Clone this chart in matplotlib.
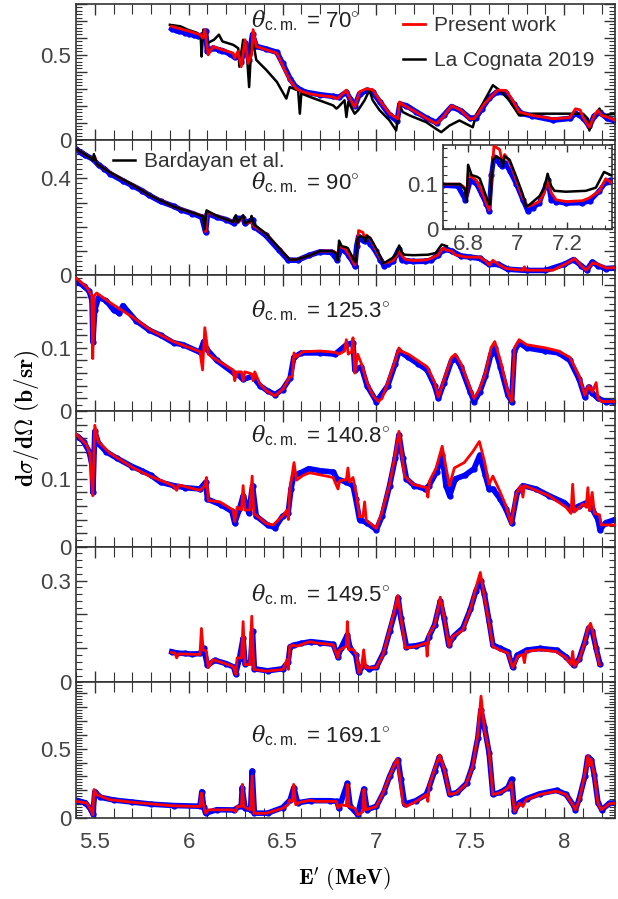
import numpy as np
import matplotlib
matplotlib.use('Agg')
import matplotlib.pyplot as plt
from matplotlib.ticker import MultipleLocator, FuncFormatter

plt.rcParams['font.family'] = ['Liberation Sans', 'DejaVu Sans']
plt.rcParams['mathtext.fontset'] = 'custom'
plt.rcParams['mathtext.rm'] = 'Liberation Sans'
plt.rcParams['mathtext.it'] = 'DejaVu Serif:italic'
plt.rcParams['mathtext.bf'] = 'DejaVu Serif:bold'

# ---- data: (E' [MeV], dsigma/dOmega [b/sr]) ----
# theta = 70
fit70 = [(5.909,0.668),(5.95,0.655),(6.00,0.64),(6.06,0.619),(6.075,0.60),(6.086,0.649),(6.104,0.50),
         (6.13,0.549),(6.18,0.53),(6.237,0.51),(6.245,0.48),(6.262,0.52),(6.28,0.43),(6.30,0.589),
         (6.317,0.45),(6.335,0.50),(6.343,0.649),(6.36,0.549),(6.414,0.53),(6.47,0.51),(6.503,0.43),
         (6.538,0.351),(6.574,0.30),(6.60,0.285),(6.645,0.27),(6.70,0.26),(6.77,0.252),(6.79,0.24),
         (6.80,0.25),(6.84,0.292),(6.855,0.25),(6.884,0.192),(6.91,0.282),(6.946,0.30),(6.98,0.295),
         (7.017,0.232),(7.07,0.153),(7.114,0.123),(7.123,0.222),(7.15,0.20),(7.21,0.163),(7.27,0.123),
         (7.32,0.093),(7.36,0.14),(7.40,0.20),(7.45,0.173),(7.496,0.123),(7.52,0.123),(7.54,0.153),
         (7.575,0.212),(7.61,0.252),(7.646,0.292),(7.69,0.29),(7.725,0.232),(7.76,0.163),(7.83,0.143),
         (7.94,0.123),(8.03,0.13),(8.06,0.182),(8.085,0.175),(8.10,0.133),(8.134,0.073),(8.16,0.143),
         (8.18,0.173),(8.20,0.143),(8.23,0.133),(8.275,0.113)]
lacog70 = [(5.90,0.677),(5.957,0.668),(5.993,0.649),(6.046,0.629),(6.064,0.609),(6.069,0.49),(6.078,0.649),
           (6.10,0.569),(6.135,0.589),(6.161,0.619),(6.18,0.579),(6.237,0.559),(6.264,0.539),(6.27,0.43),
           (6.29,0.589),(6.307,0.549),(6.322,0.31),(6.334,0.569),(6.343,0.579),(6.36,0.47),(6.414,0.41),
           (6.47,0.34),(6.52,0.242),(6.538,0.31),(6.583,0.29),(6.592,0.153),(6.60,0.272),(6.645,0.252),
           (6.769,0.202),(6.787,0.183),(6.795,0.19),(6.83,0.232),(6.84,0.133),(6.85,0.222),(6.884,0.153),
           (6.902,0.173),(6.937,0.232),(6.963,0.292),(6.98,0.232),(7.017,0.173),(7.07,0.113),(7.105,0.054),
           (7.123,0.202),(7.14,0.163),(7.176,0.143),(7.265,0.103),(7.318,0.063),(7.345,0.044),(7.389,0.083),
           (7.442,0.113),(7.513,0.073),(7.53,0.143),(7.566,0.212),(7.62,0.321),(7.655,0.292),(7.708,0.232),
           (7.76,0.143),(7.832,0.153),(8.10,0.153),(8.126,0.123),(8.134,0.054),(8.153,0.123),(8.188,0.183),
           (8.197,0.143),(8.277,0.153)]
exp70 = [(5.91,0.655),(5.93,0.645),(5.95,0.64),(5.98,0.63),(6.00,0.625),(6.03,0.615),(6.05,0.61),(6.08,0.62),
         (6.09,0.64),(6.10,0.52),(6.13,0.54),(6.16,0.53),(6.18,0.525),(6.22,0.505),(6.245,0.485),(6.27,0.50),
         (6.28,0.46),(6.30,0.57),(6.32,0.47),(6.34,0.62),(6.36,0.55),(6.41,0.535),(6.47,0.515),(6.50,0.45),
         (6.54,0.36),(6.57,0.31),(6.62,0.28),(6.70,0.265),(6.77,0.255),(6.80,0.25),(6.84,0.28),(6.86,0.24),
         (6.885,0.20),(6.91,0.27),(6.95,0.29),(6.98,0.28),(7.02,0.22),(7.07,0.145),(7.11,0.11),(7.125,0.21),
         (7.16,0.20),(7.21,0.165),(7.27,0.125),(7.32,0.10),(7.36,0.145),(7.40,0.195),(7.45,0.17),(7.50,0.125),
         (7.53,0.13),(7.56,0.18),(7.60,0.245),(7.64,0.28),(7.69,0.275),(7.73,0.21),(7.77,0.155),(7.83,0.14),
         (7.94,0.115),(8.03,0.125),(8.06,0.155),(8.10,0.13),(8.134,0.08),(8.16,0.14),(8.19,0.16),(8.23,0.125),
         (8.27,0.11)]

# theta = 90
fit90 = [(5.404,0.52),(5.474,0.486),(5.49,0.48),(5.50,0.49),(5.51,0.46),(5.58,0.425),(5.705,0.372),
         (5.794,0.33),(5.918,0.284),(6.024,0.257),(6.077,0.245),(6.09,0.18),(6.10,0.264),(6.148,0.245),
         (6.237,0.22),(6.251,0.244),(6.265,0.218),(6.29,0.244),(6.304,0.215),(6.335,0.222),(6.347,0.203),
         (6.414,0.17),(6.485,0.109),(6.538,0.065),(6.574,0.065),(6.645,0.082),(6.70,0.10),(6.768,0.10),
         (6.788,0.092),(6.795,0.065),(6.801,0.123),(6.815,0.116),(6.835,0.108),(6.855,0.085),(6.875,0.057),
         (6.885,0.042),(6.895,0.108),(6.905,0.185),(6.928,0.177),(6.939,0.147),(6.948,0.166),(6.968,0.15),
         (6.995,0.108),(7.021,0.069),(7.041,0.05),(7.061,0.054),(7.088,0.061),(7.108,0.081),(7.121,0.116),
         (7.135,0.081),(7.155,0.065),(7.195,0.061),(7.261,0.063),(7.288,0.069),(7.328,0.084),(7.355,0.112),
         (7.375,0.104),(7.40,0.10),(7.42,0.085),(7.477,0.075),(7.548,0.075),(7.58,0.06),(7.602,0.042),
         (7.62,0.062),(7.65,0.045),(7.69,0.028),(7.78,0.021),(7.788,0.035),(7.795,0.021),(7.94,0.021),
         (8.01,0.048),(8.056,0.069),(8.09,0.04),(8.117,0.021),(8.153,0.052),(8.18,0.045),(8.224,0.03),
         (8.277,0.032)]
bard90 = [(5.404,0.52),(5.474,0.486),(5.49,0.475),(5.495,0.50),(5.51,0.46),(5.58,0.425),(5.705,0.372),
          (5.794,0.33),(5.918,0.284),(6.024,0.257),(6.077,0.243),(6.085,0.19),(6.095,0.268),(6.148,0.245),
          (6.237,0.22),(6.251,0.248),(6.26,0.218),(6.29,0.248),(6.30,0.215),(6.33,0.225),(6.335,0.245),
          (6.347,0.21),(6.414,0.17),(6.485,0.109),(6.538,0.065),(6.574,0.065),(6.645,0.082),(6.701,0.10),
          (6.768,0.10),(6.788,0.088),(6.795,0.061),(6.801,0.143),(6.815,0.12),(6.838,0.116),(6.848,0.112),
          (6.861,0.092),(6.881,0.061),(6.888,0.054),(6.901,0.154),(6.915,0.162),(6.935,0.154),(6.941,0.139),
          (6.948,0.162),(6.968,0.154),(6.995,0.116),(7.021,0.077),(7.035,0.05),(7.048,0.054),(7.088,0.073),
          (7.108,0.092),(7.121,0.123),(7.135,0.096),(7.148,0.085),(7.195,0.083),(7.275,0.085),(7.315,0.092),
          (7.348,0.127),(7.375,0.12)]
exp90 = [(5.40,0.52),(5.43,0.505),(5.45,0.495),(5.49,0.48),(5.52,0.455),(5.55,0.44),(5.58,0.42),(5.65,0.39),
         (5.70,0.37),(5.75,0.35),(5.79,0.33),(5.85,0.305),(5.92,0.285),(5.96,0.27),(6.02,0.255),(6.07,0.24),
         (6.09,0.18),(6.10,0.255),(6.15,0.24),(6.20,0.23),(6.24,0.215),(6.25,0.235),(6.29,0.235),(6.30,0.215),
         (6.34,0.23),(6.35,0.20),(6.41,0.165),(6.48,0.105),(6.53,0.063),(6.58,0.062),(6.64,0.082),(6.70,0.097),
         (6.76,0.095),(6.79,0.065),(6.81,0.108),(6.835,0.10),(6.855,0.078),(6.875,0.055),(6.885,0.040),
         (6.895,0.12),(6.905,0.16),(6.928,0.145),(6.939,0.14),(6.948,0.147),(6.968,0.13),(6.995,0.10),
         (7.021,0.065),(7.041,0.04),(7.061,0.047),(7.088,0.058),(7.115,0.10),(7.121,0.108),(7.135,0.065),
         (7.155,0.061),(7.195,0.057),(7.261,0.058),(7.29,0.062),(7.328,0.084),(7.355,0.104),(7.37,0.108),
         (7.40,0.10),(7.45,0.08),(7.50,0.075),(7.55,0.07),(7.60,0.045),(7.65,0.045),(7.70,0.025),(7.80,0.02),
         (7.90,0.02),(8.00,0.045),(8.05,0.065),(8.09,0.04),(8.12,0.022),(8.15,0.055),(8.18,0.04),(8.22,0.028),
         (8.27,0.03)]

# theta = 125.3
fit125 = [(5.404,0.21),(5.457,0.196),(5.484,0.183),(5.489,0.083),(5.498,0.183),(5.51,0.187),(5.58,0.172),
          (5.705,0.148),(5.794,0.129),(5.918,0.11),(6.06,0.094),(6.074,0.065),(6.086,0.132),(6.104,0.09),
          (6.148,0.081),(6.237,0.065),(6.245,0.048),(6.258,0.062),(6.281,0.062),(6.29,0.048),(6.299,0.062),
          (6.334,0.059),(6.343,0.048),(6.352,0.062),(6.379,0.043),(6.414,0.032),(6.459,0.024),(6.503,0.035),
          (6.538,0.054),(6.552,0.055),(6.561,0.092),(6.574,0.086),(6.609,0.094),(6.70,0.095),(6.78,0.093),
          (6.80,0.09),(6.83,0.095),(6.84,0.113),(6.85,0.09),(6.87,0.095),(6.875,0.116),(6.885,0.06),(6.90,0.09),
          (6.92,0.075),(6.95,0.045),(6.98,0.025),(7.01,0.015),(7.03,0.02),(7.06,0.045),(7.10,0.08),(7.12,0.10),
          (7.13,0.095),(7.17,0.09),(7.22,0.08),(7.27,0.07),(7.31,0.045),(7.33,0.022),(7.36,0.05),(7.40,0.085),
          (7.42,0.09),(7.45,0.075),(7.50,0.035),(7.52,0.02),(7.55,0.035),(7.58,0.06),(7.61,0.10),(7.63,0.11),
          (7.66,0.08),(7.70,0.03),(7.72,0.015),(7.735,0.10),(7.76,0.113),(7.80,0.105),(7.90,0.10),(7.97,0.095),
          (8.03,0.085),(8.08,0.055),(8.11,0.025),(8.13,0.04),(8.15,0.03),(8.17,0.045),(8.18,0.02),(8.20,0.015),
          (8.27,0.015)]
exp125 = [(5.41,0.205),(5.44,0.198),(5.47,0.19),(5.485,0.175),(5.49,0.11),(5.50,0.16),(5.52,0.18),(5.56,0.175),
          (5.60,0.16),(5.63,0.155),(5.65,0.167),(5.72,0.143),(5.79,0.128),(5.85,0.12),(5.92,0.108),(5.97,0.105),
          (6.06,0.093),(6.08,0.11),(6.09,0.10),(6.15,0.08),(6.24,0.06),(6.26,0.058),(6.29,0.05),(6.34,0.055),
          (6.38,0.04),(6.42,0.032),(6.46,0.026),(6.50,0.034),(6.54,0.052),(6.56,0.085),(6.60,0.092),(6.70,0.092),
          (6.78,0.09),(6.84,0.105),(6.875,0.108),(6.885,0.065),(6.92,0.07),(6.95,0.04),(7.00,0.015),(7.06,0.04),
          (7.10,0.075),(7.12,0.095),(7.17,0.085),(7.22,0.075),(7.27,0.065),(7.31,0.04),(7.33,0.02),(7.36,0.045),
          (7.40,0.08),(7.42,0.085),(7.45,0.07),(7.50,0.03),(7.52,0.015),(7.55,0.03),(7.58,0.055),(7.61,0.09),
          (7.63,0.10),(7.66,0.07),(7.70,0.025),(7.72,0.015),(7.735,0.095),(7.76,0.108),(7.80,0.10),(7.90,0.095),
          (7.97,0.092),(8.03,0.08),(8.08,0.05),(8.11,0.022),(8.13,0.038),(8.15,0.028),(8.18,0.02),(8.22,0.015),
          (8.27,0.014)]

# theta = 140.8
fit140 = [(5.404,0.165),(5.457,0.15),(5.474,0.136),(5.489,0.075),(5.50,0.179),(5.518,0.155),(5.58,0.138),
          (5.705,0.116),(5.794,0.104),(5.918,0.09),(5.936,0.083),(5.945,0.091),(6.06,0.083),(6.086,0.09),
          (6.095,0.102),(6.104,0.068),(6.166,0.066),(6.237,0.054),(6.245,0.037),(6.258,0.058),(6.281,0.054),
          (6.29,0.09),(6.299,0.054),(6.325,0.054),(6.338,0.104),(6.347,0.049),(6.414,0.034),(6.45,0.032),
          (6.503,0.046),(6.524,0.054),(6.531,0.04),(6.538,0.083),(6.561,0.124),(6.574,0.098),(6.609,0.105),
          (6.644,0.109),(6.769,0.102),(6.795,0.085),(6.804,0.097),(6.84,0.099),(6.848,0.116),(6.857,0.095),
          (6.875,0.102),(6.893,0.078),(6.91,0.044),(6.928,0.044),(6.937,0.066),(6.946,0.039),(6.999,0.027),
          (7.026,0.048),(7.07,0.092),(7.097,0.131),(7.12,0.17),(7.132,0.142),(7.15,0.104),(7.194,0.092),
          (7.265,0.087),(7.274,0.073),(7.283,0.097),(7.318,0.116),(7.35,0.148),(7.371,0.116),(7.389,0.09),
          (7.415,0.116),(7.468,0.124),(7.513,0.14),(7.548,0.155),(7.575,0.126),(7.60,0.092),(7.62,0.104),
          (7.655,0.083),(7.69,0.06),(7.717,0.034),(7.744,0.078),(7.77,0.09),(7.78,0.073),(7.788,0.09),
          (7.832,0.085),(7.92,0.075),(8.01,0.058),(8.036,0.049),(8.045,0.092),(8.054,0.051),(8.10,0.063),
          (8.117,0.058),(8.126,0.087),(8.134,0.053),(8.149,0.08),(8.161,0.049),(8.188,0.047),(8.197,0.032),
          (8.277,0.032)]
exp140 = [(5.41,0.162),(5.44,0.155),(5.47,0.14),(5.485,0.12),(5.49,0.08),(5.50,0.17),(5.52,0.152),(5.56,0.14),
          (5.62,0.13),(5.70,0.118),(5.75,0.112),(5.80,0.105),(5.85,0.095),(5.92,0.09),(5.98,0.087),(6.06,0.085),
          (6.09,0.095),(6.10,0.07),(6.17,0.062),(6.23,0.052),(6.245,0.035),(6.27,0.055),(6.29,0.075),(6.32,0.05),
          (6.34,0.09),(6.36,0.045),(6.42,0.032),(6.46,0.028),(6.50,0.045),(6.53,0.05),(6.545,0.085),(6.56,0.105),
          (6.59,0.108),(6.64,0.115),(6.70,0.112),(6.77,0.11),(6.79,0.10),(6.84,0.095),(6.875,0.09),(6.89,0.07),
          (6.91,0.04),(6.95,0.035),(7.00,0.025),(7.03,0.045),(7.07,0.09),(7.10,0.13),(7.12,0.165),(7.14,0.13),
          (7.16,0.10),(7.20,0.09),(7.26,0.085),(7.28,0.09),(7.32,0.11),(7.35,0.135),(7.37,0.09),(7.39,0.075),
          (7.42,0.10),(7.47,0.105),(7.52,0.115),(7.55,0.135),(7.58,0.105),(7.60,0.085),(7.62,0.085),(7.66,0.07),
          (7.69,0.055),(7.72,0.035),(7.75,0.08),(7.78,0.09),(7.85,0.085),(7.92,0.075),(8.00,0.065),(8.04,0.055),
          (8.08,0.06),(8.12,0.065),(8.15,0.055),(8.18,0.04),(8.19,0.025),(8.22,0.035),(8.27,0.04)]

# theta = 149.5
fit149 = [(5.909,0.088),(5.927,0.086),(5.936,0.072),(5.945,0.084),(6.06,0.082),(6.068,0.159),(6.077,0.096),
          (6.095,0.091),(6.104,0.043),(6.13,0.067),(6.237,0.047),(6.251,0.023),(6.258,0.072),(6.281,0.072),
          (6.29,0.179),(6.299,0.052),(6.325,0.052),(6.336,0.195),(6.347,0.038),(6.414,0.033),(6.503,0.038),
          (6.524,0.067),(6.531,0.038),(6.538,0.106),(6.556,0.11),(6.574,0.106),(6.609,0.113),(6.645,0.12),
          (6.68,0.116),(6.769,0.111),(6.795,0.072),(6.804,0.096),(6.84,0.106),(6.845,0.179),(6.854,0.096),
          (6.875,0.098),(6.893,0.082),(6.907,0.028),(6.92,0.043),(6.932,0.096),(6.943,0.043),(6.999,0.043),
          (7.035,0.082),(7.07,0.154),(7.097,0.213),(7.114,0.256),(7.132,0.183),(7.155,0.101),(7.212,0.106),
          (7.265,0.116),(7.27,0.077),(7.278,0.14),(7.31,0.169),(7.34,0.251),(7.363,0.183),(7.386,0.106),
          (7.406,0.135),(7.46,0.154),(7.504,0.222),(7.53,0.28),(7.553,0.324),(7.575,0.251),(7.60,0.174),
          (7.62,0.106),(7.655,0.096),(7.70,0.086),(7.726,0.043),(7.753,0.077),(7.78,0.082),(7.788,0.058),
          (7.797,0.091),(7.868,0.096),(7.957,0.091),(8.01,0.072),(8.036,0.052),(8.045,0.091),(8.054,0.047),
          (8.08,0.067),(8.108,0.116),(8.126,0.159),(8.14,0.174),(8.153,0.149),(8.17,0.096),(8.188,0.052)]
exp149 = [(5.91,0.09),(5.94,0.086),(5.98,0.085),(6.02,0.083),(6.06,0.085),(6.08,0.10),(6.10,0.05),(6.14,0.065),
          (6.20,0.055),(6.24,0.045),(6.25,0.025),(6.27,0.07),(6.29,0.13),(6.30,0.055),(6.33,0.06),(6.34,0.15),
          (6.35,0.04),(6.42,0.034),(6.50,0.04),(6.53,0.06),(6.54,0.105),(6.56,0.11),(6.60,0.115),(6.65,0.12),
          (6.70,0.117),(6.77,0.112),(6.795,0.075),(6.81,0.10),(6.845,0.14),(6.86,0.10),(6.89,0.08),(6.905,0.03),
          (6.93,0.05),(6.96,0.04),(7.00,0.045),(7.04,0.09),(7.07,0.15),(7.10,0.21),(7.115,0.25),(7.13,0.19),
          (7.16,0.105),(7.21,0.108),(7.265,0.115),(7.28,0.135),(7.31,0.17),(7.34,0.24),(7.36,0.19),(7.385,0.11),
          (7.41,0.135),(7.46,0.16),(7.50,0.215),(7.53,0.27),(7.555,0.30),(7.575,0.26),(7.60,0.18),(7.62,0.11),
          (7.66,0.10),(7.70,0.09),(7.725,0.045),(7.75,0.08),(7.80,0.095),(7.87,0.10),(7.96,0.095),(8.01,0.075),
          (8.05,0.05),(8.08,0.07),(8.11,0.12),(8.13,0.16),(8.15,0.15),(8.17,0.10),(8.19,0.055)]

# theta = 169.1
fit169 = [(5.404,0.12),(5.457,0.108),(5.484,0.046),(5.489,0.022),(5.496,0.206),(5.51,0.169),(5.58,0.132),
          (5.705,0.113),(5.918,0.088),(6.06,0.083),(6.068,0.181),(6.08,0.083),(6.091,0.034),(6.104,0.059),
          (6.237,0.059),(6.251,0.046),(6.258,0.083),(6.281,0.083),(6.286,0.243),(6.293,0.083),(6.307,0.071),
          (6.329,0.059),(6.338,0.304),(6.347,0.034),(6.414,0.034),(6.503,0.071),(6.529,0.096),(6.538,0.132),
          (6.552,0.12),(6.559,0.243),(6.57,0.096),(6.592,0.113),(6.645,0.127),(6.68,0.12),(6.787,0.12),
          (6.795,0.071),(6.813,0.096),(6.84,0.088),(6.845,0.243),(6.854,0.083),(6.884,0.071),(6.902,0.022),
          (6.928,0.046),(6.933,0.206),(6.943,0.059),(6.999,0.083),(7.035,0.181),(7.07,0.304),(7.097,0.39),
          (7.111,0.426),(7.123,0.304),(7.141,0.108),(7.159,0.083),(7.212,0.12),(7.265,0.169),(7.274,0.12),
          (7.28,0.23),(7.31,0.353),(7.337,0.456),(7.363,0.34),(7.389,0.169),(7.424,0.18),(7.477,0.243),
          (7.513,0.377),(7.539,0.598),(7.557,0.88),(7.575,0.64),(7.60,0.475),(7.62,0.169),(7.655,0.181),
          (7.69,0.206),(7.708,0.23),(7.717,0.26),(7.735,0.046),(7.762,0.108),(7.78,0.083),(7.797,0.132),
          (7.868,0.169),(7.957,0.194),(8.01,0.169),(8.045,0.096),(8.06,0.059),(8.08,0.132),(8.108,0.304),
          (8.126,0.45),(8.134,0.377),(8.143,0.426),(8.161,0.304),(8.179,0.108),(8.197,0.059),(8.24,0.103),
          (8.277,0.108)]
exp169 = [(5.41,0.125),(5.45,0.11),(5.48,0.06),(5.49,0.03),(5.50,0.19),(5.53,0.15),(5.60,0.13),(5.70,0.115),
          (5.80,0.10),(5.92,0.09),(6.06,0.085),(6.07,0.19),(6.08,0.08),(6.09,0.035),(6.15,0.06),(6.24,0.058),
          (6.28,0.09),(6.285,0.22),(6.30,0.07),(6.33,0.06),(6.338,0.34),(6.35,0.035),(6.42,0.035),(6.50,0.075),
          (6.54,0.13),(6.56,0.22),(6.58,0.11),(6.65,0.125),(6.75,0.125),(6.79,0.12),(6.80,0.07),(6.845,0.25),
          (6.86,0.085),(6.90,0.025),(6.933,0.21),(6.95,0.06),(7.00,0.085),(7.04,0.19),(7.07,0.30),(7.10,0.39),
          (7.115,0.42),(7.13,0.28),(7.15,0.10),(7.21,0.125),(7.265,0.17),(7.28,0.22),(7.31,0.34),(7.335,0.44),
          (7.36,0.35),(7.39,0.17),(7.43,0.185),(7.48,0.25),(7.51,0.37),(7.54,0.58),(7.556,0.78),(7.575,0.66),
          (7.60,0.47),(7.62,0.17),(7.66,0.185),(7.70,0.22),(7.72,0.28),(7.735,0.05),(7.76,0.11),(7.80,0.14),
          (7.87,0.175),(7.96,0.20),(8.01,0.17),(8.05,0.09),(8.06,0.06),(8.08,0.14),(8.11,0.30),(8.125,0.44),
          (8.145,0.42),(8.16,0.31),(8.18,0.11),(8.20,0.06),(8.24,0.105),(8.27,0.11)]

angle_labels = ['70', '90', '125.3', '140.8', '149.5', '169.1']
label_y = [0.88, 0.68, 0.74, 0.82, 0.645, 0.61]
y_top = [0.80, 0.56, 0.215, 0.20, 0.40, 0.98]
y_major = [0.1, 0.1, 0.02, 0.02, 0.1, 0.1]
y_minor = [0.02, 0.02, 0.01, 0.01, 0.02, 0.02]
y_shown = [(0, 0.5), (0, 0.4), (0, 0.1), (0, 0.1), (0, 0.3), (0, 0.5)]
exp_err = [0.015, 0.012, 0.004, 0.004, 0.004, 0.006]

fits = [fit70, fit90, fit125, fit140, fit149, fit169]
exps = [exp70, exp90, exp125, exp140, exp149, exp169]

GRAY = '#444444'
EBLUE = '#2F9BF0'


def shown_formatter(keep):
    def fmt(v, pos):
        for k in keep:
            if abs(v - k) < 1e-6:
                return '%g' % k
        return ''
    return FuncFormatter(fmt)


def dress(ax, xlim, ylim, xmaj, xmin, ymaj, ymin, keep):
    ax.set_xlim(*xlim)
    ax.set_ylim(*ylim)
    ax.xaxis.set_major_locator(MultipleLocator(xmaj))
    ax.xaxis.set_minor_locator(MultipleLocator(xmin))
    ax.yaxis.set_major_locator(MultipleLocator(ymaj))
    ax.yaxis.set_minor_locator(MultipleLocator(ymin))
    ax.yaxis.set_major_formatter(shown_formatter(keep))
    ax.xaxis.set_major_formatter(FuncFormatter(lambda v, p: '%g' % round(v, 2)))
    ax.tick_params(which='both', direction='in', top=True, right=True, color='#333333',
                   labelcolor=GRAY, labelsize=16)
    ax.tick_params(which='major', length=8, width=1.0)
    ax.tick_params(which='minor', length=4, width=0.8)
    ax.tick_params(axis='x', which='minor', length=7)
    for s in ax.spines.values():
        s.set_linewidth(1.2)
        s.set_color('#333333')


fig, axes = plt.subplots(6, 1, sharex=True, figsize=(6.18, 8.99), dpi=100)
plt.subplots_adjust(left=0.123, right=0.995, top=0.9956, bottom=0.0901, hspace=0)

for i, ax in enumerate(axes):
    ex, ey = np.array(exps[i]).T
    fx, fy = np.array(fits[i]).T
    ax.plot(ex, ey, color='blue', lw=4, zorder=2)
    ax.errorbar(ex, ey, yerr=exp_err[i], fmt='o', ms=3.5, color='blue', ecolor=EBLUE,
                elinewidth=1, capsize=0, zorder=2)
    if i == 0:
        bx, by = np.array(lacog70).T
        ax.plot(fx, fy, color='red', lw=2, zorder=4, label='Present work')
        ax.plot(bx, by, color='black', lw=1.8, zorder=3, label='La Cognata 2019')
        ax.legend(loc='upper left', bbox_to_anchor=(0.588, 0.985), frameon=False, fontsize=15,
                  handlelength=1.05, handletextpad=0.4, labelspacing=0.75, borderpad=0,
                  labelcolor='#333333')
    elif i == 1:
        bx, by = np.array(bard90).T
        ax.plot(fx, fy, color='red', lw=2, zorder=3)
        ax.plot(bx, by, color='black', lw=1.8, zorder=4, label='Bardayan et al.')
        ax.legend(loc='upper left', bbox_to_anchor=(0.05, 0.985), frameon=False, fontsize=15,
                  handlelength=1.05, handletextpad=0.4, borderpad=0, labelcolor='#333333')
    else:
        ax.plot(fx, fy, color='red', lw=2, zorder=4)
    dress(ax, (5.4, 8.27), (0, y_top[i]), 0.5, 0.1, y_major[i], y_minor[i], y_shown[i])
    ax.text(0.325, label_y[i], r'$\theta_{\mathrm{c.m.}}$ = ' + angle_labels[i] + r'$^{\circ}$',
            transform=ax.transAxes, fontsize=16, va='center', ha='left', color='#222222')

axes[-1].tick_params(axis='x', which='major', pad=10)

# inset on the 90 degree panel
ins = fig.add_axes([443 / 618, 1 - 229 / 899, 169 / 618, 84 / 899])
ex, ey = np.array(exp90).T
fx, fy = np.array(fit90).T
bx, by = np.array(bard90).T
ins.plot(ex, ey, color='blue', lw=3.5, zorder=2)
ins.plot(ex, ey, 'o', ms=3.5, color='blue', zorder=2)
ins.plot(fx, fy, color='red', lw=2, zorder=3)
ins.plot(bx, by, color='black', lw=1.8, zorder=4)
dress(ins, (6.7, 7.38), (0, 0.187), 0.2, 0.05, 0.1, 0.02, (0, 0.1))
ins.tick_params(which='major', length=5)
ins.tick_params(which='minor', length=3)
ins.tick_params(axis='x', which='minor', length=3)

fig.text(0.045, 0.535, r'$\mathbf{d\sigma/d\Omega\ (b/sr)}$', rotation=90, fontsize=17,
         ha='center', va='center', math_fontfamily='cm')
fig.text(0.558, 0.022, r"$\mathbf{E'\ (MeV)}$", fontsize=16, ha='center', va='center',
         math_fontfamily='cm')

fig.savefig('out.png', dpi=100)
